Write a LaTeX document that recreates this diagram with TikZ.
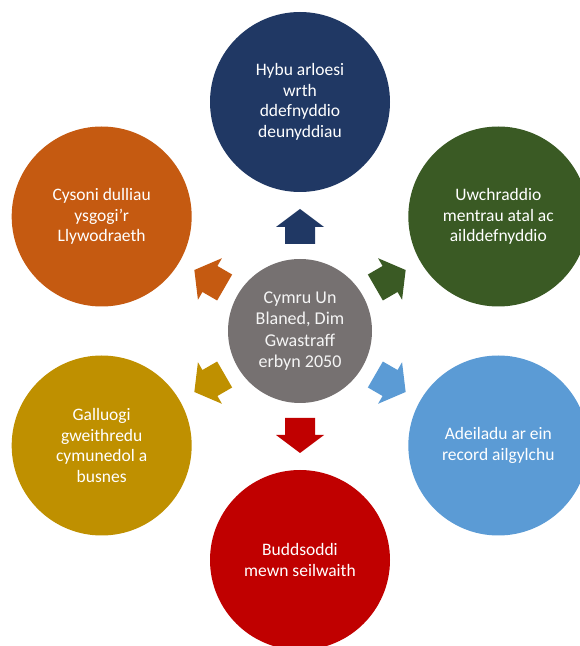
\documentclass[tikz,border=0pt]{standalone}
\usepackage{fontspec}
\setmainfont{Carlito}
\usetikzlibrary{calc}
\definecolor{cnavy}{HTML}{203864}
\definecolor{cgreen}{HTML}{3A5A24}
\definecolor{cblue}{HTML}{5B9BD5}
\definecolor{cred}{HTML}{C00000}
\definecolor{cgold}{HTML}{BF9000}
\definecolor{corange}{HTML}{C55A11}
\definecolor{cgray}{HTML}{767171}
\begin{document}
\begin{tikzpicture}[x=1pt,y=1pt,
  outer/.style={circle,minimum size=180pt,inner sep=0pt,align=center,text=white,
    font=\fontsize{17.5}{20.5}\selectfont},
  hub/.style={circle,minimum size=144pt,inner sep=0pt,align=center,text=white!92!gray,fill=cgray,
    font=\fontsize{18}{21.5}\selectfont}]
\useasboundingbox (0,0) rectangle (579,646);
\coordinate (C) at (300,315);
\node[hub] (hub) at (C) {Cymru Un\\Blaned, Dim\\Gwastraff\\erbyn 2050};
\node[outer,fill=cnavy]   (top) at ($(C)+(90:229)$)   {Hybu arloesi\\wrth\\ddefnyddio\\deunyddiau};
\node[outer,fill=cgreen]  (rt)  at ($(C)+(30:229)$)   {Uwchraddio\\mentrau atal ac\\ailddefnyddio};
\node[outer,fill=cblue]   (rb)  at ($(C)+(-30:229)$)  {Adeiladu ar ein\\record ailgylchu};
\node[outer,fill=cred]    (bot) at ($(C)+(-90:229)$)  {Buddsoddi\\mewn seilwaith};
\node[outer,fill=cgold]   (lb)  at ($(C)+(-150:229)$) {Galluogi\\gweithredu\\cymunedol a\\busnes};
\node[outer,fill=corange] (lt)  at ($(C)+(150:229)$)  {Cysoni dulliau\\ysgogi’r\\Llywodraeth};
\foreach \ang/\col in {90/cnavy,30/cgreen,-30/cblue,-90/cred,-150/cgold,150/corange}{
  \begin{scope}[shift={(C)},rotate=\ang]
    \fill[\col] (87,-15) -- (104,-15) -- (104,-24) -- (122,0) -- (104,24) -- (104,15) -- (87,15) -- cycle;
  \end{scope}
}
\end{tikzpicture}
\end{document}
